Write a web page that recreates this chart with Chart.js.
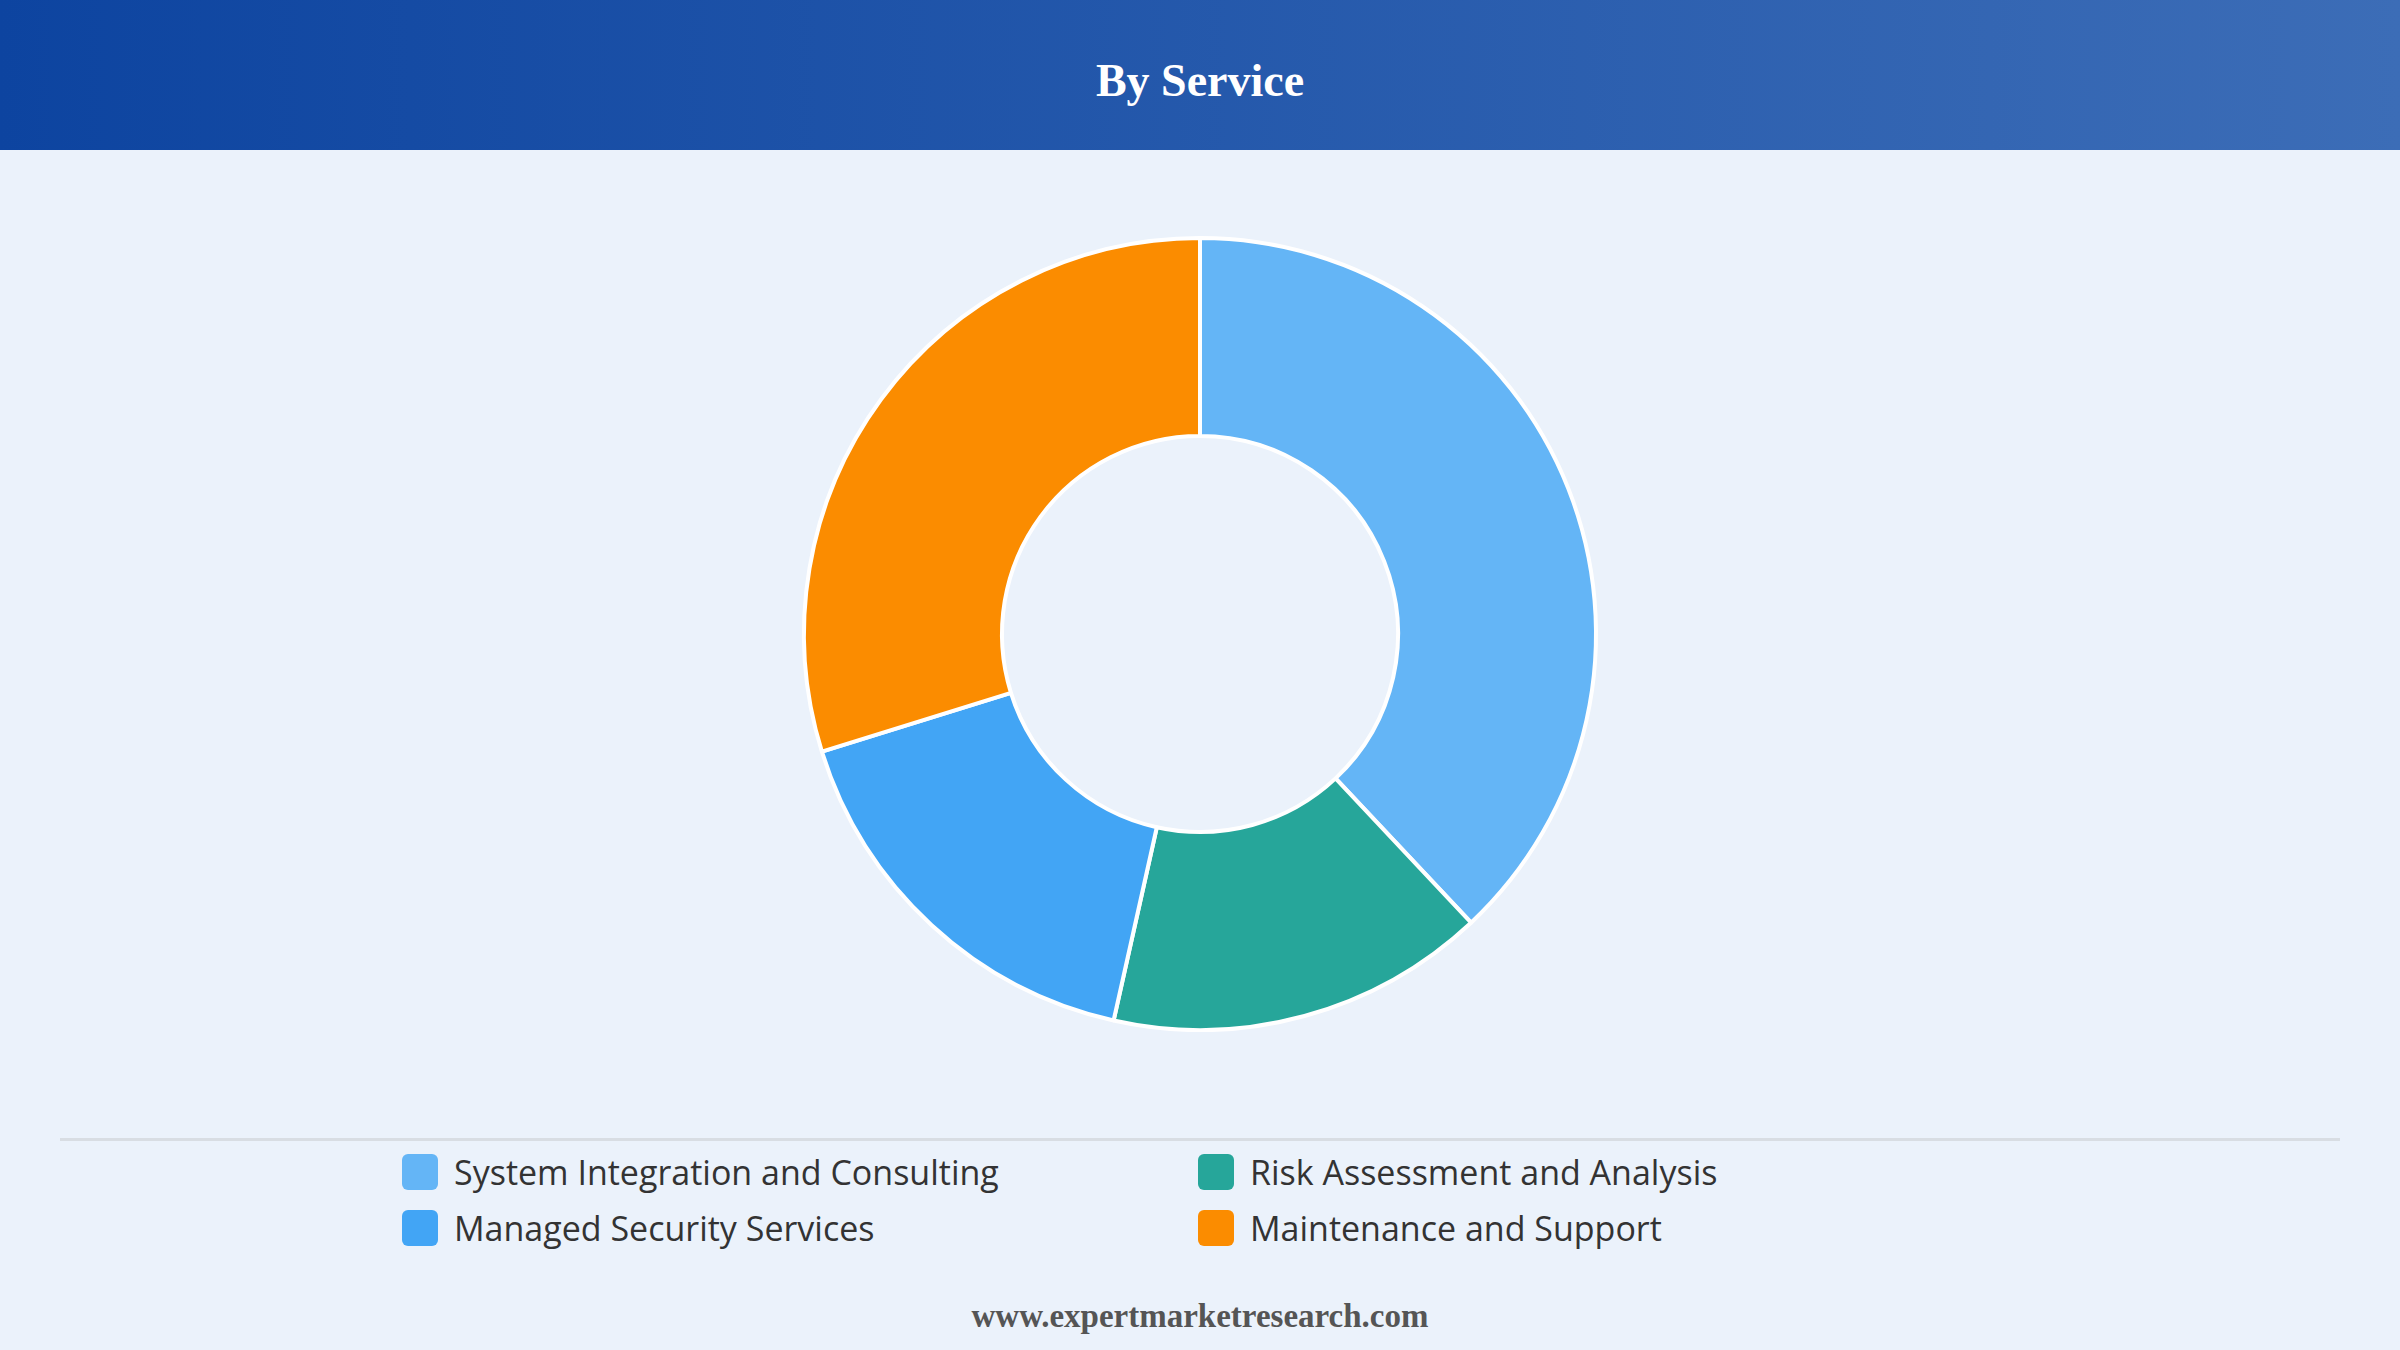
<!DOCTYPE html>
<html><head><meta charset="utf-8">
<script src="https://cdn.jsdelivr.net/npm/chart.js@4"></script>
<style>
html,body{margin:0;padding:0;width:2400px;height:1350px;background:#ebf2fb;overflow:hidden}
#hdr{position:absolute;left:0;top:0;width:2400px;height:150px;background:linear-gradient(90deg,#0d44a0,#3c6db7);}
#hdr div{color:#fff;font:bold 46px "Liberation Serif","DejaVu Serif",serif;text-align:center;line-height:162px}
#wrap{position:absolute;left:0;top:236px;width:2400px;height:796px}
#line{position:absolute;left:60px;top:1138px;width:2280px;height:3px;background:#d8dde3}
#legend{position:absolute;left:402px;top:1152px;display:grid;grid-template-columns:796px 700px;row-gap:16px}
.it{display:flex;align-items:center;font:34px "Open Sans","Noto Sans",sans-serif;color:#333;height:40px}
.sw{width:36px;height:36px;border-radius:6px;margin-right:16px}
#foot{position:absolute;left:0;top:1298px;width:2400px;text-align:center;font:bold 33px "Liberation Serif",serif;color:#555}
</style></head><body>
<div id="hdr"><div>By Service</div></div>
<div id="wrap"><canvas id="c"></canvas></div>
<div id="line"></div>
<div id="legend"></div>
<div id="foot">www.expertmarketresearch.com</div>
<script>
const categories=["System Integration and Consulting","Risk Assessment and Analysis","Managed Security Services","Maintenance and Support"];
const values=[38,15.5,16.7,29.8];
const colors=["#64b5f6","#26a69a","#42a5f5","#fb8c00"];
const lg=document.getElementById('legend');
categories.forEach((c,i)=>{const d=document.createElement('div');d.className='it';d.innerHTML='<span class="sw" style="background:'+colors[i]+'"></span>'+c;lg.appendChild(d);});
new Chart(document.getElementById('c'),{type:'doughnut',
data:{labels:categories,datasets:[{data:values,backgroundColor:colors,borderColor:'#ffffff',borderWidth:4}]},
options:{responsive:true,maintainAspectRatio:false,animation:false,cutout:'50%',
plugins:{legend:{display:false},tooltip:{enabled:false}}}});
</script>
</body></html>
